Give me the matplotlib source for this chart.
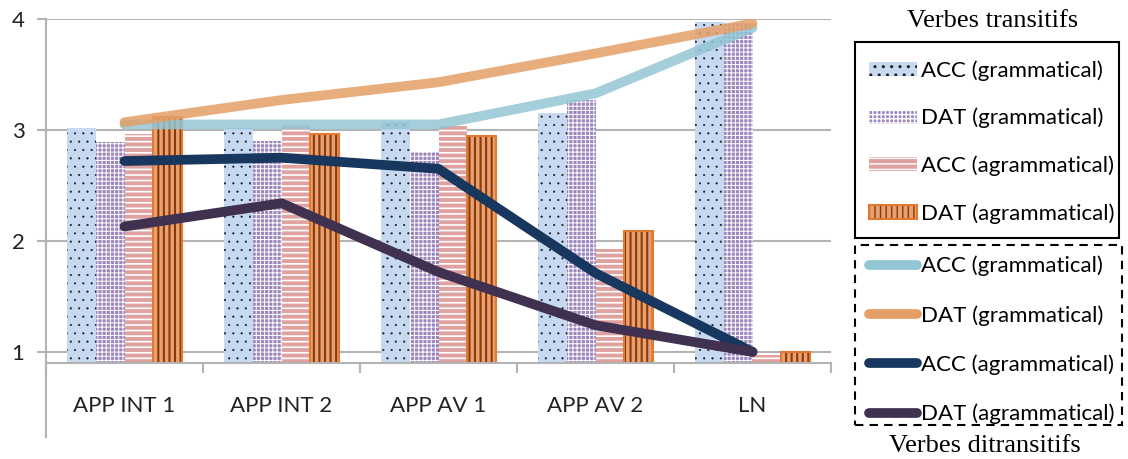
import matplotlib
matplotlib.use("Agg")
import matplotlib.pyplot as plt
import numpy as np
from matplotlib.patches import Patch, Rectangle
from matplotlib.lines import Line2D

# ---- data ----
categories = ["APP INT 1", "APP INT 2", "APP AV 1", "APP AV 2", "LN"]
series_labels = ["ACC (grammatical)", "DAT (grammatical)",
                 "ACC (agrammatical)", "DAT (agrammatical)"]

# Verbes transitifs (bars)
trans_acc_gram = [3.02, 3.02, 3.07, 3.15, 3.97]
trans_dat_gram = [2.89, 2.90, 2.80, 3.27, 3.96]
trans_acc_agram = [2.96, 3.05, 3.04, 1.93, 0.97]
trans_dat_agram = [3.12, 2.96, 2.95, 2.09, 1.00]

# Verbes ditransitifs (lines)
ditr_acc_gram = [3.05, 3.05, 3.05, 3.33, 3.92]
ditr_dat_gram = [3.07, 3.27, 3.43, 3.69, 3.96]
ditr_acc_agram = [2.72, 2.75, 2.65, 1.71, 1.00]
ditr_dat_agram = [2.13, 2.34, 1.72, 1.24, 1.00]

yticks = [1, 2, 3, 4]

# ---- styles ----
FONT = "Lato"
GRID = "#b3b3b3"
bar_styles = [
    dict(face="#c6d9f1", hatch="..", hcolor="#1a1a1a", hlw=0.3, edge=None),
    dict(face="#9b86bd", hatch="++++", hcolor="#ffffff", hlw=0.7, edge=None),
    dict(face="#dfa2a0", hatch="---", hcolor="#ffffff", hlw=1.2, edge=None),
    dict(face="#e8a070", hatch="|||", hcolor="#8a3a08", hlw=1.5, edge="#e27a32"),
]
line_styles = [
    dict(color="#93c6d4", alpha=0.85),
    dict(color="#e59f66", alpha=0.85),
    dict(color="#17375e", alpha=1.0),
    dict(color="#403151", alpha=1.0),
]


def hatched(artist_factory, hlw):
    """Create hatched artists with their own hatch line width."""
    with plt.rc_context({"hatch.linewidth": hlw}):
        obj = artist_factory()
    items = obj.patches if hasattr(obj, "patches") else [obj]
    for p in items:
        if hasattr(p, "set_hatch_linewidth"):
            p.set_hatch_linewidth(hlw)
    return obj


W, H = 1128, 459
fig = plt.figure(figsize=(W / 100, H / 100), dpi=100)
ax = fig.add_axes([46 / W, 1 - 363 / H, (831 - 46) / W, (363 - 19) / H])

x = np.arange(len(categories))
bw = 0.1825
bar_series = [trans_acc_gram, trans_dat_gram, trans_acc_agram, trans_dat_agram]
base = 0.9
for i, (vals, st) in enumerate(zip(bar_series, bar_styles)):
    xs = x + (i - 1.5) * bw
    heights = np.array(vals) - base
    hatched(lambda: ax.bar(xs, heights, bw, bottom=base, color=st["face"],
                           hatch=st["hatch"], edgecolor=st["hcolor"],
                           linewidth=0, zorder=2), st["hlw"])
    if st["edge"]:
        ax.bar(xs, heights, bw, bottom=base, facecolor="none",
               edgecolor=st["edge"], linewidth=1.5, zorder=2.1)

line_series = [ditr_acc_gram, ditr_dat_gram, ditr_acc_agram, ditr_dat_agram]
for vals, st in zip(line_series, line_styles):
    ax.plot(x, vals, color=st["color"], alpha=st["alpha"], lw=7,
            solid_capstyle="round", solid_joinstyle="round", zorder=3)

ax.set_xlim(-0.5, len(categories) - 0.5)
ax.set_ylim(base, 4.0)
ax.set_yticks(yticks)
ax.set_yticklabels([str(t) for t in yticks])
ax.yaxis.grid(True, color=GRID, lw=1.5, zorder=0)
ax.set_axisbelow(True)

ax.set_xticks(x)
ax.set_xticklabels(categories)
ax.set_xticks(np.arange(len(categories) + 1) - 0.5, minor=True)
ax.tick_params(axis="x", which="major", length=0, pad=24, labelsize=16,
               labelcolor="#222222")
ax.tick_params(axis="x", which="minor", length=7.5, width=1.5, color=GRID,
               direction="out")
ax.tick_params(axis="y", length=6.5, width=1.5, color=GRID, pad=9,
               labelsize=16, labelcolor="#222222")
for lab in ax.get_xticklabels() + ax.get_yticklabels():
    lab.set_family(FONT)

for s in ["top", "right", "left"]:
    ax.spines[s].set_visible(False)
ax.spines["bottom"].set_color(GRID)
ax.spines["bottom"].set_linewidth(1.5)

# vertical axis line running below the category axis
fig.add_artist(Line2D([46 / W, 46 / W], [1 - 437 / H, 1 - 19 / H],
                      transform=fig.transFigure, color=GRID, lw=1.5))

# ---- legends ----
bar_handles = []
for st in bar_styles:
    fill = hatched(lambda: Patch(facecolor=st["face"], hatch=st["hatch"],
                                 edgecolor=st["hcolor"], linewidth=0), st["hlw"])
    if st["edge"]:
        outline = Patch(facecolor="none", edgecolor=st["edge"], linewidth=1.5)
        bar_handles.append((fill, outline))
    else:
        bar_handles.append(fill)
line_handles = [Line2D([], [], color=st["color"], lw=7, solid_capstyle="round")
                for st in line_styles]

common = dict(loc="center left", borderaxespad=0, frameon=False,
              handlelength=2.16, handleheight=0.6, handletextpad=0.18,
              borderpad=0, prop=dict(family=FONT, size=16))
fig.legend(bar_handles, series_labels, labelspacing=1.22,
           bbox_to_anchor=(869 / W, 1 - 142 / H), **common)
fig.legend(line_handles, series_labels, labelspacing=1.29,
           bbox_to_anchor=(869 / W, 1 - 340 / H), **common)

# frames around the two legend groups
fig.add_artist(Rectangle((855 / W, 1 - 238 / H), (1119 - 855) / W,
                         (238 - 42) / H, transform=fig.transFigure,
                         fill=False, edgecolor="black", lw=1.5))
fig.add_artist(Rectangle((855 / W, 1 - 425 / H), (1122 - 855) / W,
                         (425 - 245) / H, transform=fig.transFigure,
                         fill=False, edgecolor="black", lw=1.5,
                         linestyle=(0, (4, 3))))

fig.text(993 / W, 1 - 21 / H, "Verbes transitifs", ha="center", va="center",
         family="Liberation Serif", size=19)
fig.text(985 / W, 1 - 446 / H, "Verbes ditransitifs", ha="center",
         va="center", family="Liberation Serif", size=19)

fig.savefig("out.png", dpi=100, facecolor="white")
